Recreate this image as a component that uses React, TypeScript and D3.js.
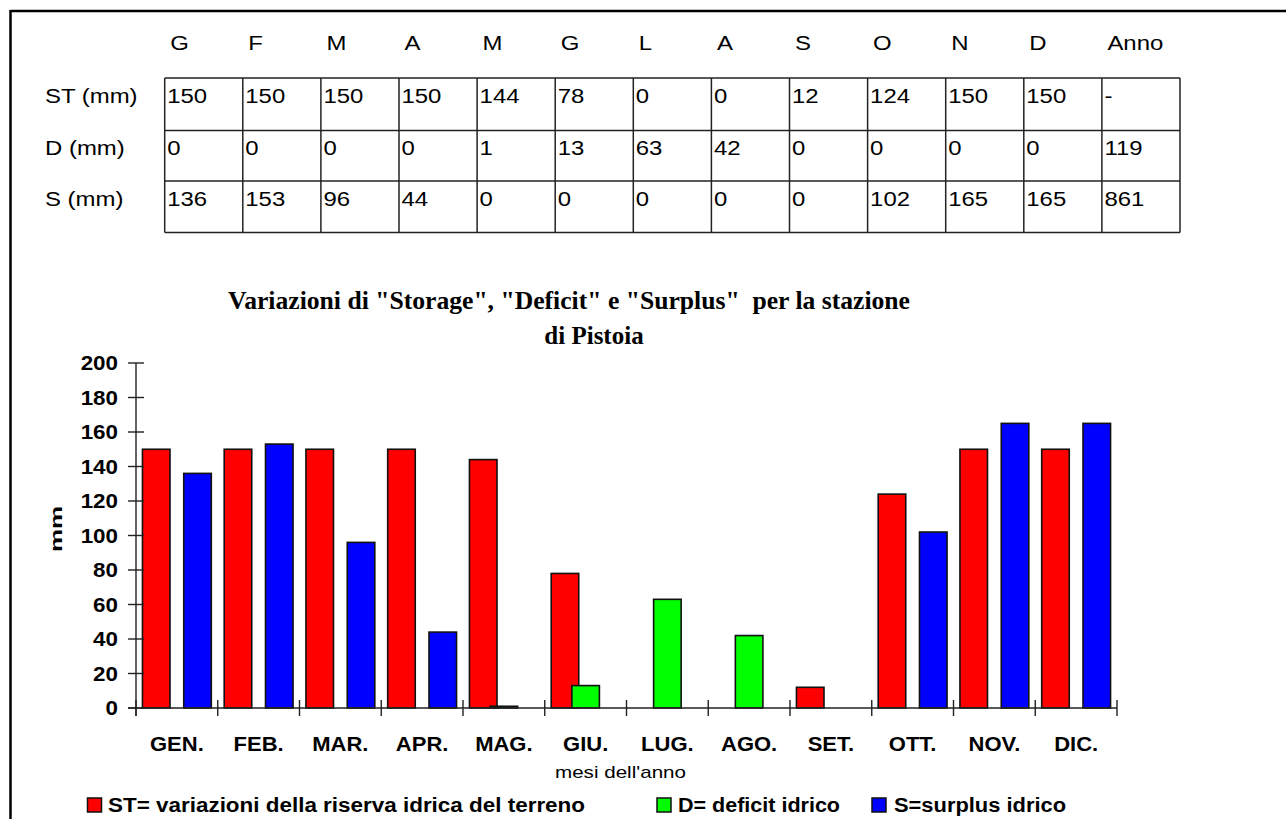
import React from "react";
import * as d3 from "d3";

// Monthly water balance for Pistoia (mm)
const months = ["GEN.", "FEB.", "MAR.", "APR.", "MAG.", "GIU.", "LUG.", "AGO.", "SET.", "OTT.", "NOV.", "DIC."];
const tableHeads = ["G", "F", "M", "A", "M", "G", "L", "A", "S", "O", "N", "D", "Anno"];
const rowLabels = ["ST (mm)", "D (mm)", "S (mm)"];
const stValues = [150, 150, 150, 150, 144, 78, 0, 0, 12, 124, 150, 150];
const dValues = [0, 0, 0, 0, 1, 13, 63, 42, 0, 0, 0, 0];
const sValues = [136, 153, 96, 44, 0, 0, 0, 0, 0, 102, 165, 165];
const annoValues = ["-", "119", "861"];
const yTicks = [0, 20, 40, 60, 80, 100, 120, 140, 160, 180, 200];

const seriesNames = [
  "ST= variazioni della riserva idrica del terreno",
  "D= deficit idrico",
  "S=surplus idrico",
];
const seriesColors = ["#ff0000", "#00ff00", "#0000ff"];

const W = 1286;
const H = 819;
const SANS = "'Liberation Sans', Arial, sans-serif";
const SERIF = "'Liberation Serif', 'Times New Roman', serif";

// Text drawn with a slight horizontal stretch, anchored at (x, y)
function SText(props: {
  x: number;
  y: number;
  sx?: number;
  anchor?: "start" | "middle" | "end";
  size: number;
  weight?: number | string;
  family?: string;
  children: React.ReactNode;
  len?: number;
}) {
  const { x, y, sx = 1.14, anchor = "start", size, weight = 400, family = SANS, children, len } = props;
  return (
    <text
      transform={`translate(${x},${y}) scale(${len ? 1 : sx},1)`}
      textAnchor={anchor}
      fontSize={size}
      fontWeight={weight}
      fontFamily={family}
      fill="#000"
      {...(len ? { textLength: len, lengthAdjust: "spacingAndGlyphs" } : {})}
    >
      {children}
    </text>
  );
}

export default function App() {
  // Data table geometry
  const tLeft = 164.7;
  const tRight = 1180;
  const colW = (tRight - tLeft) / tableHeads.length;
  const rowLines = [78, 130.5, 181, 232.5];
  const tableRows = [
    [...stValues.map(String), annoValues[0]],
    [...dValues.map(String), annoValues[1]],
    [...sValues.map(String), annoValues[2]],
  ];

  // Chart scales
  const x = d3.scaleBand<string>().domain(months).range([136, 1117]).padding(0);
  const y = d3.scaleLinear().domain([0, 200]).range([708, 363]);
  const bw = x.bandwidth();
  const barW = bw * 0.337;
  const step = bw * 0.2526;
  const series = [stValues, dValues, sValues];
  const boundaries = d3.range(months.length + 1).map((i) => 136 + i * bw);

  return (
    <svg
      width={W}
      height={H}
      style={{ position: "absolute", left: 0, top: 0, background: "#fff" }}
    >
      <rect x={0} y={0} width={W} height={H} fill="#fff" />
      {/* page frame */}
      <line x1={10.5} y1={11} x2={W} y2={11} stroke="#000" strokeWidth={2.5} />
      <line x1={10.5} y1={10} x2={10.5} y2={H} stroke="#000" strokeWidth={2.5} />

      {/* data table */}
      {tableHeads.map((h, i) => (
        <SText key={"h" + i} x={tLeft + i * colW + 5.5} y={50} size={21}>
          {h}
        </SText>
      ))}
      {rowLabels.map((r, i) => (
        <SText key={"r" + i} x={45} y={rowLines[i] + 24.5} size={21}>
          {r}
        </SText>
      ))}
      {tableRows.map((row, ri) =>
        row.map((v, ci) => (
          <SText key={`c${ri}-${ci}`} x={tLeft + ci * colW + 2.5} y={rowLines[ri] + 24.5} size={21}>
            {v}
          </SText>
        ))
      )}
      <g stroke="#222" strokeWidth={1.5}>
        {rowLines.map((ly, i) => (
          <line key={"rl" + i} x1={tLeft} x2={tRight} y1={ly} y2={ly} />
        ))}
        {d3.range(tableHeads.length + 1).map((i) => (
          <line
            key={"cl" + i}
            x1={tLeft + i * colW}
            x2={tLeft + i * colW}
            y1={rowLines[0]}
            y2={rowLines[3]}
          />
        ))}
      </g>

      {/* title */}
      <text
        x={228}
        y={309}
        fontFamily={SERIF}
        fontWeight={700}
        fontSize={25}
        textLength={682}
        lengthAdjust="spacingAndGlyphs"
        xmlSpace="preserve"
      >
        {'Variazioni di "Storage", "Deficit" e "Surplus"  per la stazione'}
      </text>
      <text x={594} y={344} textAnchor="middle" fontFamily={SERIF} fontWeight={700} fontSize={25}>
        di Pistoia
      </text>

      {/* bars */}
      {series.map((vals, si) => (
        <g key={"s" + si}>
          {vals.map((v, mi) =>
            v > 0 ? (
              <rect
                key={mi}
                x={(x(months[mi]) as number) + bw / 2 + (si - 1) * step - barW / 2}
                y={y(v)}
                width={barW}
                height={y(0) - y(v)}
                fill={seriesColors[si]}
                stroke="#111"
                strokeWidth={1.6}
              />
            ) : null
          )}
        </g>
      ))}

      {/* axes */}
      <g stroke="#222" strokeWidth={1.4}>
        <line x1={136} x2={136} y1={y(200)} y2={716} />
        <line x1={128} x2={1117} y1={y(0)} y2={y(0)} />
        {yTicks.map((t) => (
          <line key={"yt" + t} x1={128} x2={144} y1={y(t)} y2={y(t)} />
        ))}
        {boundaries.map((b, i) => (
          <line key={"xt" + i} x1={b} x2={b} y1={700} y2={716} />
        ))}
      </g>
      {yTicks.map((t) => (
        <SText key={"yl" + t} x={118} y={y(t) + 7} anchor="end" size={20} weight={700} sx={1.12}>
          {t}
        </SText>
      ))}
      {months.map((m) => (
        <SText
          key={"xl" + m}
          x={(x(m) as number) + bw / 2}
          y={751}
          anchor="middle"
          size={20}
          weight={700}
          sx={1.1}
        >
          {m}
        </SText>
      ))}
      <text
        transform="translate(62,529) rotate(-90)"
        textAnchor="middle"
        fontFamily={SANS}
        fontWeight={700}
        fontSize={16}
        textLength={46}
        lengthAdjust="spacingAndGlyphs"
      >
        mm
      </text>
      <text
        x={555}
        y={778}
        fontFamily={SANS}
        fontSize={17}
        textLength={131}
        lengthAdjust="spacingAndGlyphs"
      >
        mesi dell'anno
      </text>

      {/* legend */}
      {[
        { sq: 87.5, tx: 108, len: 477 },
        { sq: 657, tx: 678, len: 162 },
        { sq: 872, tx: 894, len: 172 },
      ].map((l, i) => (
        <g key={"lg" + i}>
          <rect x={l.sq} y={798} width={14} height={14} fill={seriesColors[i]} stroke="#111" strokeWidth={1.5} />
          <text
            x={l.tx}
            y={811.5}
            fontFamily={SANS}
            fontWeight={700}
            fontSize={20}
            textLength={l.len}
            lengthAdjust="spacingAndGlyphs"
          >
            {seriesNames[i]}
          </text>
        </g>
      ))}
    </svg>
  );
}
